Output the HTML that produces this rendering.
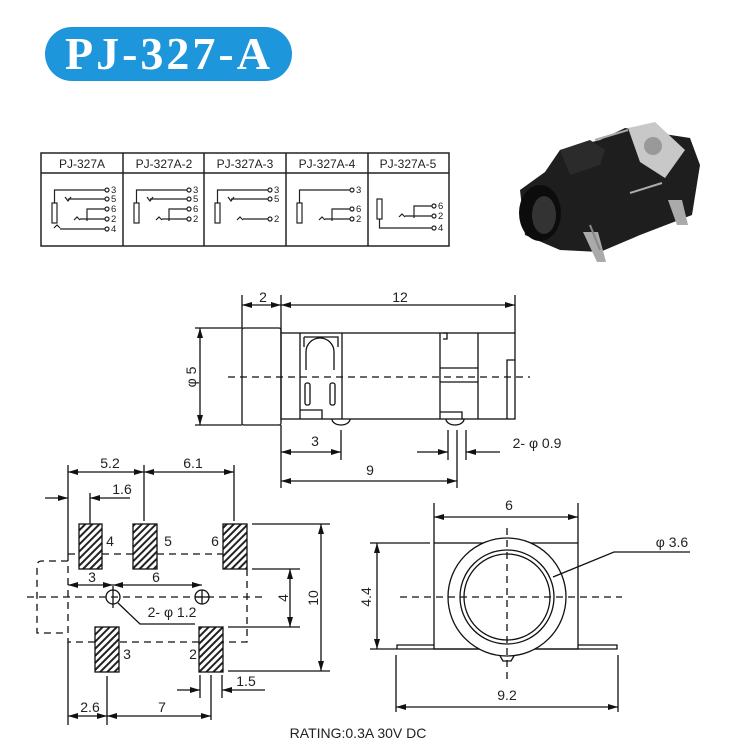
<!DOCTYPE html>
<html><head><meta charset="utf-8"><style>
body{margin:0;background:#fff}
svg{display:block}
text{font-family:"Liberation Sans",sans-serif;fill:#222}
</style></head><body>
<svg width="735" height="744" viewBox="0 0 735 744" xmlns="http://www.w3.org/2000/svg">
<defs>
<marker id="a" viewBox="0 0 10 6" refX="10" refY="3" markerWidth="10" markerHeight="6" orient="auto-start-reverse" markerUnits="userSpaceOnUse"><path d="M0,0L10,3L0,6z" fill="#111"/></marker>
<pattern id="h" width="5" height="5" patternUnits="userSpaceOnUse" patternTransform="rotate(45)"><rect width="5" height="5" fill="#fff"/><rect width="2" height="5" fill="#222"/></pattern>
</defs>
<!-- title -->
<rect x="45" y="27" width="247" height="54" rx="27" fill="#1e96dc"/>
<text x="169" y="69" text-anchor="middle" font-weight="bold" font-size="46" letter-spacing="3" style="font-family:'Liberation Serif',serif;fill:#fff">PJ-327-A</text>

<!-- table -->
<g stroke="#222" fill="none" stroke-width="1.5">
<rect x="41" y="153" width="408" height="93"/>
<line x1="41" y1="173" x2="449" y2="173"/>
<line x1="123" y1="153" x2="123" y2="246"/>
<line x1="204" y1="153" x2="204" y2="246"/>
<line x1="286" y1="153" x2="286" y2="246"/>
<line x1="368" y1="153" x2="368" y2="246"/>
</g>
<g font-size="12" text-anchor="middle" style="fill:#333">
<text x="82" y="168">PJ-327A</text><text x="164" y="168">PJ-327A-2</text><text x="245" y="168">PJ-327A-3</text><text x="327" y="168">PJ-327A-4</text><text x="408" y="168">PJ-327A-5</text>
</g>
<g stroke="#222" fill="none" stroke-width="1.2" font-size="9.5">
<g>
<rect x="52" y="203" width="5" height="20"/>
<path d="M54.5 203V190H105M65 197l3 4 3-4M68 199H105M87 221V209H105M74 220l3-3 3 3M80 219H105M54 228l3-3 3 3M60 229H105"/>
<circle cx="107" cy="190" r="2"/><circle cx="107" cy="199" r="2"/><circle cx="107" cy="209" r="2"/><circle cx="107" cy="219" r="2"/><circle cx="107" cy="229" r="2"/>
<text x="111" y="193" stroke="none">3</text><text x="111" y="202" stroke="none">5</text><text x="111" y="212" stroke="none">6</text><text x="111" y="222" stroke="none">2</text><text x="111" y="232" stroke="none">4</text>
</g>
<g transform="translate(82,0)">
<rect x="52" y="203" width="5" height="20"/>
<path d="M54.5 203V190H105M65 197l3 4 3-4M68 199H105M87 221V209H105M74 220l3-3 3 3M80 219H105"/>
<circle cx="107" cy="190" r="2"/><circle cx="107" cy="199" r="2"/><circle cx="107" cy="209" r="2"/><circle cx="107" cy="219" r="2"/>
<text x="111" y="193" stroke="none">3</text><text x="111" y="202" stroke="none">5</text><text x="111" y="212" stroke="none">6</text><text x="111" y="222" stroke="none">2</text>
</g>
<g transform="translate(163,0)">
<rect x="52" y="203" width="5" height="20"/>
<path d="M54.5 203V190H105M65 197l3 4 3-4M68 199H105M74 220l3-3 3 3M80 219H105"/>
<circle cx="107" cy="190" r="2"/><circle cx="107" cy="199" r="2"/><circle cx="107" cy="219" r="2"/>
<text x="111" y="193" stroke="none">3</text><text x="111" y="202" stroke="none">5</text><text x="111" y="222" stroke="none">2</text>
</g>
<g transform="translate(245,0)">
<rect x="52" y="203" width="5" height="20"/>
<path d="M54.5 203V190H105M87 221V209H105M74 220l3-3 3 3M80 219H105"/>
<circle cx="107" cy="190" r="2"/><circle cx="107" cy="209" r="2"/><circle cx="107" cy="219" r="2"/>
<text x="111" y="193" stroke="none">3</text><text x="111" y="212" stroke="none">6</text><text x="111" y="222" stroke="none">2</text>
</g>
<g transform="translate(327,0)">
<rect x="50" y="199" width="5" height="20"/>
<path d="M52.5 219V228H105M87 218V206H105M72 217l3-3 3 3M78 216H105"/>
<circle cx="107" cy="206" r="2"/><circle cx="107" cy="216" r="2"/><circle cx="107" cy="228" r="2"/>
<text x="111" y="209" stroke="none">6</text><text x="111" y="219" stroke="none">2</text><text x="111" y="231" stroke="none">4</text>
</g>
</g>

<!-- photo -->
<g>
<polygon points="520,190 545,172 560,150 600,140 625,128 690,138 700,165 692,215 640,235 600,252 560,250 525,235" fill="#1e1e1e"/>
<polygon points="560,150 590,140 605,150 600,165 570,175" fill="#2b2b2b"/>
<ellipse cx="540" cy="213" rx="21" ry="28" fill="#0c0c0c"/>
<ellipse cx="544" cy="215" rx="12" ry="19" fill="#333"/>
<polygon points="628,128 655,122 685,150 665,178 640,162" fill="#c8c8c8"/>
<circle cx="653" cy="146" r="9" fill="#999"/>
<polygon points="583,232 598,232 606,262 597,262" fill="#aaa"/>
<polygon points="668,200 682,200 688,225 677,225" fill="#aaa"/>
<line x1="595" y1="140" x2="628" y2="130" stroke="#aaa" stroke-width="2"/>
<line x1="630" y1="193" x2="662" y2="183" stroke="#aaa" stroke-width="2"/>
<line x1="590" y1="225" x2="600" y2="250" stroke="#888" stroke-width="2"/>
</g>

<g stroke="#111" stroke-width="1.3" fill="none">
<rect x="242" y="328" width="39" height="97" rx="2"/>
<rect x="281" y="333" width="234" height="86"/>
<path d="M300 333V419M342 333V419M304 337H338V347M304 337V347M306 370V352a14 14 0 0 1 28 0V370M440 333V419M478 333V419M440 368H478M440 382H478M507 419V360H515M443 333h4v6h-4M300 410H322V419M440 412H462V419"/>
<rect x="305" y="383" width="5" height="22" rx="2"/><rect x="330" y="383" width="5" height="22" rx="2"/>
<path d="M332 419a9 6 0 0 0 18 0M446 419a9 6 0 0 0 18 0"/>
<line x1="228" y1="377" x2="530" y2="377" stroke-dasharray="7,5"/>
<path d="M242 295V328M281 295V333M515 295V333M195 328H242M195 425H242M281 425V488M341 430V460M457 430V488M448 430V460M466 430V460"/>
<line x1="242" y1="305" x2="281" y2="305" marker-start="url(#a)" marker-end="url(#a)"/>
<line x1="281" y1="305" x2="515" y2="305" marker-start="url(#a)" marker-end="url(#a)"/>
<line x1="200" y1="328" x2="200" y2="425" marker-start="url(#a)" marker-end="url(#a)"/>
<line x1="281" y1="452" x2="341" y2="452" marker-start="url(#a)" marker-end="url(#a)"/>
<line x1="281" y1="481" x2="457" y2="481" marker-start="url(#a)" marker-end="url(#a)"/>
<line x1="417" y1="452" x2="448" y2="452" marker-end="url(#a)"/>
<line x1="500" y1="452" x2="466" y2="452" marker-end="url(#a)"/>

<rect x="79" y="524" width="23" height="45" fill="url(#h)"/>
<rect x="133" y="524" width="24" height="45" fill="url(#h)"/>
<rect x="223" y="524" width="24" height="45" fill="url(#h)"/>
<rect x="95" y="627" width="24" height="45" fill="url(#h)"/>
<rect x="199" y="627" width="24" height="45" fill="url(#h)"/>
<g stroke-dasharray="7,5">
<path d="M68 554H79M102 554H133M157 554H223M247 569V642H223M199 642H119M95 642H68V554"/>
<path d="M68 561H42q-5 0-5 5V633H68"/>
<line x1="27" y1="597" x2="262" y2="597"/>
</g>
<circle cx="113" cy="597" r="7"/><circle cx="202" cy="597" r="7"/>
<path d="M113 586V608M202 590V604M195 597H209M118 603L140 624H195"/>
<path d="M68 465V554M144 465V521M234 465V521M90 493V524M68 642V725M107 676V725M211 675V720M200 675V698M222 675V698M252 524H330M252 569H300M228 627H300M228 671H330"/>
<line x1="68" y1="472" x2="144" y2="472" marker-start="url(#a)" marker-end="url(#a)"/>
<line x1="144" y1="472" x2="234" y2="472" marker-start="url(#a)" marker-end="url(#a)"/>
<line x1="45" y1="498" x2="68" y2="498" marker-end="url(#a)"/>
<line x1="130" y1="498" x2="90" y2="498" marker-end="url(#a)"/>
<line x1="68" y1="585" x2="113" y2="585" marker-start="url(#a)" marker-end="url(#a)"/>
<line x1="113" y1="585" x2="202" y2="585" marker-start="url(#a)" marker-end="url(#a)"/>
<line x1="321" y1="524" x2="321" y2="671" marker-start="url(#a)" marker-end="url(#a)"/>
<line x1="290" y1="569" x2="290" y2="627" marker-start="url(#a)" marker-end="url(#a)"/>
<line x1="177" y1="690" x2="200" y2="690" marker-end="url(#a)"/>
<line x1="265" y1="690" x2="222" y2="690" marker-end="url(#a)"/>
<line x1="68" y1="716" x2="107" y2="716" marker-start="url(#a)" marker-end="url(#a)"/>
<line x1="107" y1="716" x2="211" y2="716" marker-start="url(#a)" marker-end="url(#a)"/>

<rect x="434" y="543" width="144" height="106" fill="#fff"/>
<path d="M397 649V645H434M578 645H617V649H397"/>
<circle cx="507" cy="597" r="59" fill="#fff"/>
<circle cx="507" cy="597" r="47"/>
<circle cx="507" cy="597" r="43"/>
<path d="M500 656l3 5h8l3-5"/>
<g stroke-dasharray="7,5"><line x1="400" y1="597" x2="622" y2="597"/><line x1="507" y1="528" x2="507" y2="682"/></g>
<path d="M434 503V543M578 503V543M370 543H430M370 649H397M396 655V712M618 655V712M553 577L614 552H690"/>
<line x1="434" y1="517" x2="578" y2="517" marker-start="url(#a)" marker-end="url(#a)"/>
<line x1="377" y1="543" x2="377" y2="649" marker-start="url(#a)" marker-end="url(#a)"/>
<line x1="396" y1="707" x2="618" y2="707" marker-start="url(#a)" marker-end="url(#a)"/>
</g>

<g font-size="14" text-anchor="middle">
<text x="263" y="302">2</text><text x="400" y="302">12</text>
<text x="315" y="446">3</text><text x="370" y="475">9</text>
<text x="537" y="448">2- φ 0.9</text>
<text transform="translate(196,377) rotate(-90)">φ 5</text>
<text x="110" y="468">5.2</text><text x="193" y="468">6.1</text>
<text x="122" y="494">1.6</text>
<text x="110" y="546">4</text><text x="168" y="546">5</text><text x="215" y="546">6</text>
<text x="127" y="659">3</text><text x="193" y="659">2</text>
<text x="92" y="582">3</text><text x="156" y="582">6</text>
<text x="172" y="617">2- φ 1.2</text>
<text transform="translate(288,598) rotate(-90)">4</text>
<text transform="translate(318,598) rotate(-90)">10</text>
<text x="246" y="686">1.5</text>
<text x="90" y="712">2.6</text><text x="162" y="712">7</text>
<text x="509" y="510">6</text>
<text transform="translate(371,597) rotate(-90)">4.4</text>
<text x="507" y="700">9.2</text>
<text x="672" y="547">φ 3.6</text>
<text x="358" y="738">RATING:0.3A 30V DC</text>
</g>
</svg>
</body></html>
